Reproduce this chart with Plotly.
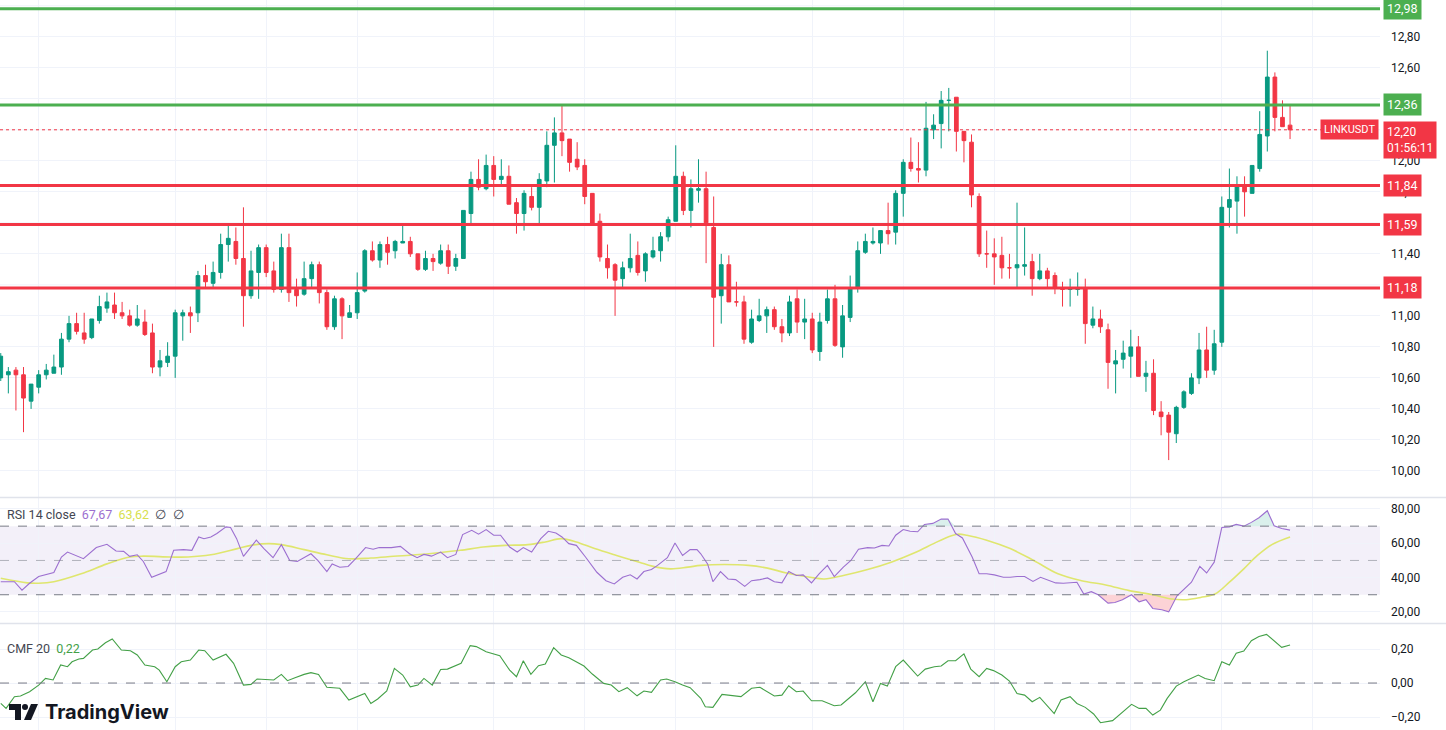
import plotly.graph_objects as go
import numpy as np

# ---------------- data ----------------
opens = [10.60,10.62,10.65,10.62,10.45,10.54,10.62,10.63,10.67,10.85,10.95,10.89,10.86,10.97,11.05,11.07,11.02,11.00,10.94,10.96,
         10.89,10.67,10.70,10.74,11.00,11.02,11.02,11.26,11.21,11.28,11.46,11.48,11.37,11.13,11.28,11.44,11.29,11.17,11.44,11.17,
         11.14,11.24,11.33,11.15,10.93,11.11,10.99,11.02,11.16,11.42,11.36,11.46,11.42,11.47,11.48,11.40,11.30,11.37,11.34,11.42,
         11.32,11.37,11.66,11.88,11.82,11.97,11.88,11.90,11.73,11.66,11.77,11.70,11.87,12.10,12.18,12.14,12.01,11.97,11.79,11.61,
         11.37,11.33,11.24,11.31,11.39,11.29,11.38,11.42,11.51,11.61,11.90,11.68,11.81,11.82,11.57,11.13,11.33,11.09,11.09,10.83,
         10.97,11.00,11.04,10.93,10.89,11.11,10.96,10.98,10.77,10.97,11.11,10.80,10.99,11.18,11.41,11.47,11.47,11.55,11.54,11.79,
         11.99,11.95,11.94,12.20,12.24,12.39,12.41,12.19,12.12,11.77,11.40,11.40,11.39,11.31,11.31,11.32,11.35,11.24,11.29,11.26,
         11.18,11.17,11.17,11.18,10.94,10.98,10.91,10.69,10.72,10.74,10.80,10.61,10.63,10.38,10.36,10.24,10.41,10.50,10.60,10.78,
         10.65,10.83,11.70,11.74,11.84,11.79,11.95,12.16,12.54,12.28,12.23]
highs = [10.76,10.67,10.67,10.67,10.56,10.65,10.69,10.75,10.89,11.00,11.02,11.02,10.98,11.13,11.15,11.15,11.09,11.04,11.07,11.04,
         10.95,10.78,10.83,11.04,11.04,11.06,11.29,11.33,11.35,11.53,11.59,11.57,11.70,11.42,11.46,11.46,11.35,11.53,11.53,11.24,
         11.35,11.35,11.35,11.17,11.13,11.12,11.07,11.28,11.43,11.48,11.48,11.51,11.49,11.59,11.51,11.40,11.42,11.40,11.46,11.46,
         11.40,11.68,11.93,12.01,12.04,12.03,12.01,11.97,11.76,11.81,11.83,11.92,12.19,12.28,12.36,12.14,12.12,12.01,11.79,11.66,
         11.46,11.34,11.35,11.53,11.48,11.41,11.51,11.54,11.64,12.10,11.93,11.88,12.01,11.93,11.77,11.40,11.39,11.22,11.13,11.04,
         11.11,11.06,11.06,10.98,11.13,11.17,11.11,11.02,11.02,11.17,11.20,11.07,11.26,11.48,11.53,11.57,11.55,11.73,11.81,12.01,
         12.15,12.12,12.38,12.30,12.45,12.47,12.41,12.19,12.17,11.79,11.55,11.50,11.51,11.40,11.73,11.57,11.40,11.40,11.31,11.28,
         11.22,11.24,11.28,11.24,11.06,11.04,10.95,10.78,10.84,10.91,10.87,10.71,10.72,10.45,10.38,10.42,10.52,10.63,10.89,10.93,
         10.91,11.77,11.95,11.90,11.90,11.97,12.32,12.71,12.57,12.39,12.36]
lows = [10.58,10.50,10.39,10.25,10.40,10.50,10.59,10.63,10.62,10.83,10.88,10.82,10.85,10.95,11.02,10.98,10.98,10.93,10.93,10.87,
        10.63,10.61,10.67,10.60,10.84,10.89,10.96,11.18,11.18,11.24,11.35,11.33,10.93,11.11,11.11,11.25,11.15,11.15,11.09,11.06,
        11.13,11.18,11.08,10.91,10.91,10.85,10.99,10.98,11.15,11.35,11.31,11.33,11.37,11.47,11.38,11.29,11.29,11.29,11.33,11.27,
        11.29,11.37,11.59,11.81,11.81,11.77,11.84,11.72,11.53,11.55,11.68,11.59,11.83,11.86,12.03,11.93,11.94,11.72,11.58,11.35,
        11.24,11.00,11.18,11.28,11.26,11.22,11.37,11.35,11.48,11.61,11.65,11.57,11.73,11.34,10.80,10.95,11.09,11.06,10.82,10.82,
        10.96,10.89,10.91,10.83,10.87,10.89,10.85,10.76,10.71,10.95,10.80,10.73,10.96,11.15,11.40,11.46,11.40,11.46,11.46,11.64,
        11.93,11.86,11.90,12.14,12.08,12.19,12.06,11.99,11.70,11.38,11.31,11.20,11.24,11.24,11.18,11.26,11.13,11.23,11.18,11.14,
        11.06,11.06,11.13,10.82,10.92,10.89,10.53,10.50,10.66,10.60,10.61,10.51,10.36,10.23,10.07,10.18,10.40,10.49,10.56,10.60,
        10.62,10.80,11.57,11.53,11.64,11.79,11.93,12.06,12.19,12.22,12.14]
closes = [10.74,10.64,10.62,10.47,10.56,10.62,10.65,10.67,10.85,10.95,10.90,10.85,10.98,11.06,11.09,11.02,11.00,10.94,10.98,10.88,
          10.67,10.71,10.74,11.02,11.02,11.00,11.26,11.22,11.28,11.46,11.50,11.37,11.13,11.29,11.44,11.28,11.17,11.44,11.15,11.13,
          11.24,11.33,11.15,10.93,11.11,11.00,11.02,11.15,11.42,11.36,11.46,11.41,11.48,11.48,11.40,11.30,11.37,11.35,11.42,11.32,
          11.37,11.68,11.88,11.83,11.97,11.88,11.90,11.72,11.66,11.79,11.70,11.88,12.10,12.18,12.13,11.99,11.96,11.77,11.59,11.38,
          11.31,11.23,11.31,11.37,11.28,11.40,11.42,11.51,11.62,11.90,11.68,11.82,11.82,11.60,11.12,11.33,11.09,11.09,10.85,10.98,
          11.00,11.04,10.93,10.89,11.09,10.96,10.98,10.78,10.96,11.11,10.81,11.00,11.18,11.42,11.48,11.48,11.55,11.53,11.79,11.99,
          11.95,11.94,12.21,12.23,12.39,12.39,12.19,12.13,11.78,11.40,11.40,11.38,11.31,11.31,11.33,11.33,11.24,11.29,11.24,11.18,
          11.17,11.18,11.18,10.95,10.98,10.93,10.70,10.71,10.76,10.80,10.61,10.63,10.39,10.35,10.25,10.41,10.51,10.60,10.78,10.65,
          10.82,11.70,11.75,11.84,11.80,11.97,12.17,12.54,12.28,12.22,12.20]
bar_index = list(range(len(closes)))

support_levels = [11.84, 11.59, 11.18]
resistance_levels = [12.98, 12.36]
last_price = 12.20
countdown = "01:56:11"
symbol = "LINKUSDT"

price_ticks = [10.0, 10.2, 10.4, 10.6, 10.8, 11.0, 11.4, 11.8, 12.0, 12.4, 12.6, 12.8]
rsi_ticks = [20, 40, 60, 80]
cmf_ticks = [-0.2, 0, 0.2]

rsi_x = [0,1.8,2.8,3.8,5,6.5,7,8,8.8,10.9, 12.6,14,15.2,16.2,17,18,18.8,19.9,21.8,22.8,
         24.1,25.2,26.1,26.8,27.7,28.5,29.7,30.3,31.1,32, 33.7,34.7,35.9,37,38.1,39.1,40.9,41.8,43,43.7,
         44.7,45.8,46.8,48.1,49.1,49.9,51.5,52.7,53.9,54.9, 55.8,56.8,58,58.9,60,60.9,62.1,63,64,65,
         65.9,67.1,68.1,68.9,70,71.2,72.2,73.2,74,74.9, 75.9,77.1,78.6,79.8,80.9,82,83,83.9,84.8,85.8,
         86.6,87.9,88.9,89.9,90.9,91.8,92.3,93.2,93.9,94.9, 95.9,96.9,98.1,99,100.1,101.1,102,103,103.9,104.9,
         105.8,106.9,107.9,109,109.9,111.1,112.1,113.1,114.3,115.2, 116.2,117.1,118,119,119.9,120.9,121.8,122.9,124,124.9,
         125.9,126.8,128.1,129,130,131,132.2,133.1,134,135, 136.1,137.1,138.1,139.1,140.1,141.1,141.9,142.8,143.8,144.7,
         146,146.9,147.9,149.1,150.1,151,151.9,153.1,154,155.1, 156,157,158.1,159,160,161,162,162.9,163.9,164.9,
         165.9,167,167.9,168.9,170]
rsi_v = [37.6,37.6,32.7,36.7,40.6,42.5,43.0,52.0,54.9,51.0, 57.5,59.4,55.5,55.3,52.4,53.3,49.4,40.2,43.5,55.9,
         56.3,55.9,63.7,62.7,63.7,65.7,69.6,69.2,62.7,52.4, 61.8,56.9,51.6,59.2,50.0,49.4,53.9,50.0,43.5,48.0,
         46.0,46.5,51.0,57.5,56.5,57.5,57.5,58.2,53.9,51.6, 53.5,52.5,54.9,51.6,53.5,65.1,67.6,65.3,68.0,64.7,
         64.7,57.8,54.9,57.5,54.9,62.7,67.0,66.0,63.7,59.8, 58.8,52.0,43.1,38.2,36.3,40.2,41.6,39.2,43.5,44.7,
         47.1,51.6,60.2,52.9,56.3,56.3,53.9,48.0,37.6,43.5, 39.2,38.8,34.9,38.2,38.8,39.8,37.6,36.9,43.5,41.2,
         41.6,36.9,42.2,47.1,40.6,46.1,50.0,56.5,57.5,57.3, 58.8,58.4,64.7,68.0,67.0,66.7,71.0,71.6,74.1,74.1,
         65.7,63.1,51.9,42.2,42.2,41.6,40.2,40.2,40.6,40.6, 37.8,40.2,38.6,36.9,36.7,36.9,37.3,30.4,31.8,30.0,
         25.1,25.5,27.1,30.0,25.9,27.1,22.0,21.2,20.0,29.4, 32.9,37.3,46.5,42.7,49.0,69.2,69.6,71.0,70.0,72.2,
         74.9,79.0,70.2,68.6,67.67]

rsi_ma_x = [0,3.5,5,7,10.6,14,17,18.8,22.4,24.7, 27.7,31.2,33,35.3,37,40,43,45.9,48.8,51.8,
            54.7,57.7,60.6,63.6,66.5,69.5,71.8,73.9,75.9,78.3, 81.2,84.2,85.9,88.3,90.6,92.3,95.4,98.6,101.1,103.6,
            106.7,108.6,111.1,114.3,117.4,120.5,123,124.9,126.2,127.4, 130,133.1,136.2,139.4,142.5,145.7,148.8,151.9,154.4,156.3,
            158.2,160.1,162,163.9,165.7,167.6,170]
rsi_ma_v = [39.6,36.9,36.7,37.6,42.2,48.0,52.0,52.5,52.0,52.0, 53.3,56.9,58.8,59.8,59.2,56.3,53.3,51.0,51.4,52.4,
            53.3,54.5,55.9,57.8,58.8,59.2,60.8,62.7,60.8,56.9, 52.9,49.0,46.7,45.1,46.1,47.1,47.6,47.1,45.5,42.7,
            40.2,39.2,41.2,44.7,49.0,54.5,59.8,63.7,65.3,64.7, 61.8,56.9,50.0,42.2,38.2,35.7,32.4,30.0,27.5,27.1,
            28.4,30.4,37.3,45.1,52.9,59.2,63.62]

cmf_x = [0,0.7,1.8,2.6,3.8,5,5.9,6.9,7.9,8.8, 9.4,10.3,10.9,12.1,12.8,13.8,14.7,15.9,17.1,18,
         19,20.3,20.9,21.9,23,23.8,25,26.1,26.9,28, 29.7,30.7,32,33,33.8,35.2,36,37,37.8,38.8,
         40,40.9,41.9,43,44.7,45.9,47.1,48,48.8,49.7, 50.9,51.9,53,54,55,55.8,56.9,58,58.9,59.9,
         60.7,61.9,62.7,64,65.8,67.1,68,68.9,69.9,70.9, 71.8,72.9,73.9,74.9,75.9,76.9,78,79.5,80.5,81.5,
         82.6,83.9,84.8,85.8,87,87.8,88.9,89.9,90.9,92.3, 92.9,93.9,95.1,96.4,97.6,99,100.1,102,103,103.9,
         104.9,105.8,106.9,108.3,109.9,110.8,112.7,114,115,116, 116.9,118,119,120.9,121.9,123.1,124,124.9,125.9,127,
         127.9,129,130,130.9,132,133,134,135,136,137, 138.9,139.8,141,141.9,143,144.1,145,146.6,147.5,149.1,
         150.1,151,151.9,152.9,153.8,155,156,157,157.9,158.8, 160,161,162,162.9,163.9,164.9,165.9,166.9,168,168.9,
         170]
cmf_v = [-0.12,-0.149,-0.08,-0.076,-0.051,-0.012,0.027,0.018,0.106,0.096, 0.125,0.141,0.145,0.194,0.2,0.237,0.259,0.194,0.19,0.165,
         0.106,0.096,0.076,0.008,0.096,0.125,0.135,0.194,0.19,0.135, 0.169,0.116,-0.012,-0.008,0.024,0.018,0.018,0.051,0.014,0.031,
         0.051,0.061,0.051,-0.025,-0.031,-0.1,-0.08,-0.061,-0.12,-0.094, -0.047,0.086,0.047,-0.022,-0.012,0.027,-0.012,0.08,0.082,0.1,
         0.116,0.22,0.214,0.184,0.161,0.076,0.037,0.131,0.051,0.102, 0.112,0.208,0.165,0.149,0.125,0.1,0.053,-0.002,-0.012,-0.051,
         -0.027,-0.075,-0.047,-0.055,0.018,0.024,0.008,-0.012,-0.027,-0.09, -0.139,-0.143,-0.067,-0.076,-0.08,-0.031,-0.025,-0.076,-0.071,-0.016,
         -0.051,-0.047,-0.104,-0.104,-0.133,-0.129,-0.057,0.008,-0.11,-0.002, -0.018,0.096,0.135,0.041,0.082,0.096,0.1,0.131,0.131,0.171,
         0.082,0.037,0.086,0.073,0.047,0.012,-0.061,-0.071,-0.11,-0.084, -0.179,-0.1,-0.08,-0.12,-0.143,-0.182,-0.233,-0.221,-0.188,-0.125,
         -0.149,-0.149,-0.188,-0.159,-0.09,-0.018,0.008,0.027,0.047,0.027, 0.014,0.125,0.106,0.175,0.188,0.249,0.273,0.286,0.247,0.21,
         0.224]

rsi_last, rsi_ma_last, cmf_last = "67,67", "63,62", "0,22"

# ---------------- styling / layout ----------------
W, H = 1446, 730
PW = 1380  # plot area width in px
GREEN, RED = '#089981', '#f23645'
LVL_GREEN = '#4caf50'
GRID = '#f0f3fa'
FONT = 'Roboto, Liberation Sans, sans-serif'

def px(x):
    return x / PW

def py(y):
    return (H - y) / H

fig = go.Figure()

fig.add_trace(go.Candlestick(
    x=bar_index, open=opens, high=highs, low=lows, close=closes,
    increasing=dict(line=dict(color=GREEN, width=1), fillcolor=GREEN),
    decreasing=dict(line=dict(color=RED, width=1), fillcolor=RED),
    whiskerwidth=0, showlegend=False, hoverinfo='skip', xaxis='x', yaxis='y'))

rsi_arr = np.array(rsi_v)
fig.add_trace(go.Scatter(x=rsi_x, y=[30]*len(rsi_x), mode='lines', line=dict(width=0),
                         showlegend=False, hoverinfo='skip', xaxis='x2', yaxis='y2'))
fig.add_trace(go.Scatter(x=rsi_x, y=np.minimum(rsi_arr, 30), mode='lines', line=dict(width=0),
                         fill='tonexty', fillcolor='rgba(242,54,69,0.22)',
                         showlegend=False, hoverinfo='skip', xaxis='x2', yaxis='y2'))
fig.add_trace(go.Scatter(x=rsi_x, y=[70]*len(rsi_x), mode='lines', line=dict(width=0),
                         showlegend=False, hoverinfo='skip', xaxis='x2', yaxis='y2'))
fig.add_trace(go.Scatter(x=rsi_x, y=np.maximum(rsi_arr, 70), mode='lines', line=dict(width=0),
                         fill='tonexty', fillcolor='rgba(8,153,129,0.15)',
                         showlegend=False, hoverinfo='skip', xaxis='x2', yaxis='y2'))
fig.add_trace(go.Scatter(x=rsi_ma_x, y=rsi_ma_v, mode='lines', line=dict(color='#dfe66e', width=1.6, shape='spline'),
                         showlegend=False, hoverinfo='skip', xaxis='x2', yaxis='y2'))
fig.add_trace(go.Scatter(x=rsi_x, y=rsi_v, mode='lines', line=dict(color='#9c6fd0', width=1.1),
                         showlegend=False, hoverinfo='skip', xaxis='x2', yaxis='y2'))
fig.add_trace(go.Scatter(x=cmf_x, y=cmf_v, mode='lines', line=dict(color='#43a047', width=1.1),
                         showlegend=False, hoverinfo='skip', xaxis='x3', yaxis='y3'))

xgrid = [5, 23, 35, 47, 65, 77, 89, 107, 119, 131, 149, 161, 173]
xcommon = dict(range=[-0.1, 181.86], tickvals=xgrid, showticklabels=False, ticks='',
               showgrid=True, gridcolor=GRID, gridwidth=1, zeroline=False, showline=False,
               rangeslider=dict(visible=False), fixedrange=True)
ycommon = dict(side='right', showgrid=True, gridcolor=GRID, gridwidth=1, zeroline=False, showline=False,
               ticks='', tickformat='.2f', ticklabelstandoff=10,
               tickfont=dict(size=12, color='#131722', family=FONT), fixedrange=True)

fig.update_layout(
    width=W, height=H, margin=dict(l=0, r=W - PW, t=0, b=0, pad=0, autoexpand=False),
    paper_bgcolor='white', plot_bgcolor='white', separators=',.',
    showlegend=False, font=dict(family=FONT),
    xaxis=dict(domain=[0, 1], anchor='y', **xcommon),
    xaxis2=dict(domain=[0, 1], anchor='y2', matches='x', **xcommon),
    xaxis3=dict(domain=[0, 1], anchor='y3', matches='x', **xcommon),
    yaxis=dict(domain=[0.3192, 1], anchor='x', range=[9.832, 13.037], tickvals=price_ticks, **ycommon),
    yaxis2=dict(domain=[0.1466, 0.3178], anchor='x2', range=[13.53, 86.41], tickvals=rsi_ticks, **ycommon),
    yaxis3=dict(domain=[0, 0.1452], anchor='x3', range=[-0.276, 0.347], tickvals=cmf_ticks, **ycommon),
)

shapes = []
for g in [11.2, 11.6, 12.2, 13.0]:
    shapes.append(dict(type='line', xref='paper', yref='y', x0=0, x1=1, y0=g, y1=g,
                       line=dict(color=GRID, width=1), layer='below'))
for yy in (497.5, 623.5):
    shapes.append(dict(type='line', xref='paper', yref='paper', x0=0, x1=W / PW, y0=py(yy), y1=py(yy),
                       line=dict(color='#e0e3eb', width=1.5)))
shapes.append(dict(type='rect', xref='paper', yref='y2', x0=0, x1=1, y0=30, y1=70,
                   fillcolor='rgba(126,87,194,0.09)', line=dict(width=0), layer='below'))
for lv, col in ((70, '#787b86'), (50, 'rgba(120,123,134,0.55)'), (30, '#787b86')):
    shapes.append(dict(type='line', xref='paper', yref='y2', x0=0, x1=1, y0=lv, y1=lv,
                       line=dict(color=col, width=1, dash='dash')))
shapes.append(dict(type='line', xref='paper', yref='y3', x0=0, x1=1, y0=0, y1=0,
                   line=dict(color='#787b86', width=1, dash='dash')))
shapes.append(dict(type='line', xref='paper', yref='y', x0=0, x1=1, y0=last_price, y1=last_price,
                   line=dict(color=RED, width=1, dash='dot')))
for lv in resistance_levels:
    shapes.append(dict(type='line', xref='paper', yref='y', x0=0, x1=1, y0=lv, y1=lv,
                       line=dict(color=LVL_GREEN, width=3)))
for lv in support_levels:
    shapes.append(dict(type='line', xref='paper', yref='y', x0=0, x1=1, y0=lv, y1=lv,
                       line=dict(color=RED, width=3)))

def path(points):
    return 'M ' + ' L '.join(f'{px(a):.5f},{py(b):.5f}' for a, b in points) + ' Z'
shapes.append(dict(type='path', xref='paper', yref='paper',
                   path=path([(9, 704), (21, 704), (21, 720), (15, 720), (15, 710), (9, 710)]),
                   fillcolor='#131722', line=dict(width=0)))
shapes.append(dict(type='circle', xref='paper', yref='paper', x0=px(22), x1=px(28), y0=py(710), y1=py(704),
                   fillcolor='#131722', line=dict(width=0)))
shapes.append(dict(type='path', xref='paper', yref='paper', path=path([(31, 704), (38, 704), (31, 720), (24, 720)]),
                   fillcolor='#131722', line=dict(width=0)))

annotations = []

def axis_label(y, text, color):
    annotations.append(dict(xref='paper', x=1, xanchor='left', xshift=3, yref='y', y=y, yanchor='middle',
                            text=text, showarrow=False, bgcolor=color, borderpad=3,
                            font=dict(color='white', size=12.5, family=FONT)))

for lv in resistance_levels:
    axis_label(lv, f'{lv:.2f}'.replace('.', ','), LVL_GREEN)
for lv in support_levels:
    axis_label(lv, f'{lv:.2f}'.replace('.', ','), RED)

annotations.append(dict(xref='paper', x=1, xanchor='left', xshift=3, yref='y', y=last_price, yanchor='top', yshift=9,
                        text=f'{last_price:.2f}'.replace('.', ',') + '<br>' + countdown, align='left',
                        showarrow=False, bgcolor=RED, borderpad=3,
                        font=dict(color='white', size=12, family=FONT)))
annotations.append(dict(xref='paper', x=1, xanchor='right', xshift=-1, yref='y', y=last_price, yanchor='middle',
                        text=symbol, showarrow=False, bgcolor=RED, borderpad=3,
                        font=dict(color='white', size=11, family=FONT)))

annotations.append(dict(xref='paper', yref='paper', x=px(5), y=py(514), xanchor='left', yanchor='middle',
                        text=f"RSI 14 close  <span style='color:#9c6fd0'>{rsi_last}</span>  "
                             f"<span style='color:#d7df4e'>{rsi_ma_last}</span>  ∅  ∅",
                        showarrow=False, font=dict(size=12.5, color='#434651', family=FONT)))
annotations.append(dict(xref='paper', yref='paper', x=px(5), y=py(648), xanchor='left', yanchor='middle',
                        text=f"CMF 20  <span style='color:#43a047'>{cmf_last}</span>",
                        showarrow=False, font=dict(size=12.5, color='#434651', family=FONT)))
annotations.append(dict(xref='paper', yref='paper', x=px(43), y=py(712), xanchor='left', yanchor='middle',
                        text='<b>TradingView</b>', showarrow=False,
                        font=dict(size=20, color='#131722', family='Inter, Roboto, sans-serif')))

fig.update_layout(shapes=shapes, annotations=annotations)
fig.write_html("out.html", config={'displayModeBar': False, 'staticPlot': True},
               post_script="document.body.style.margin='0';document.body.style.padding='0';"
                           "document.body.style.overflow='hidden';")
